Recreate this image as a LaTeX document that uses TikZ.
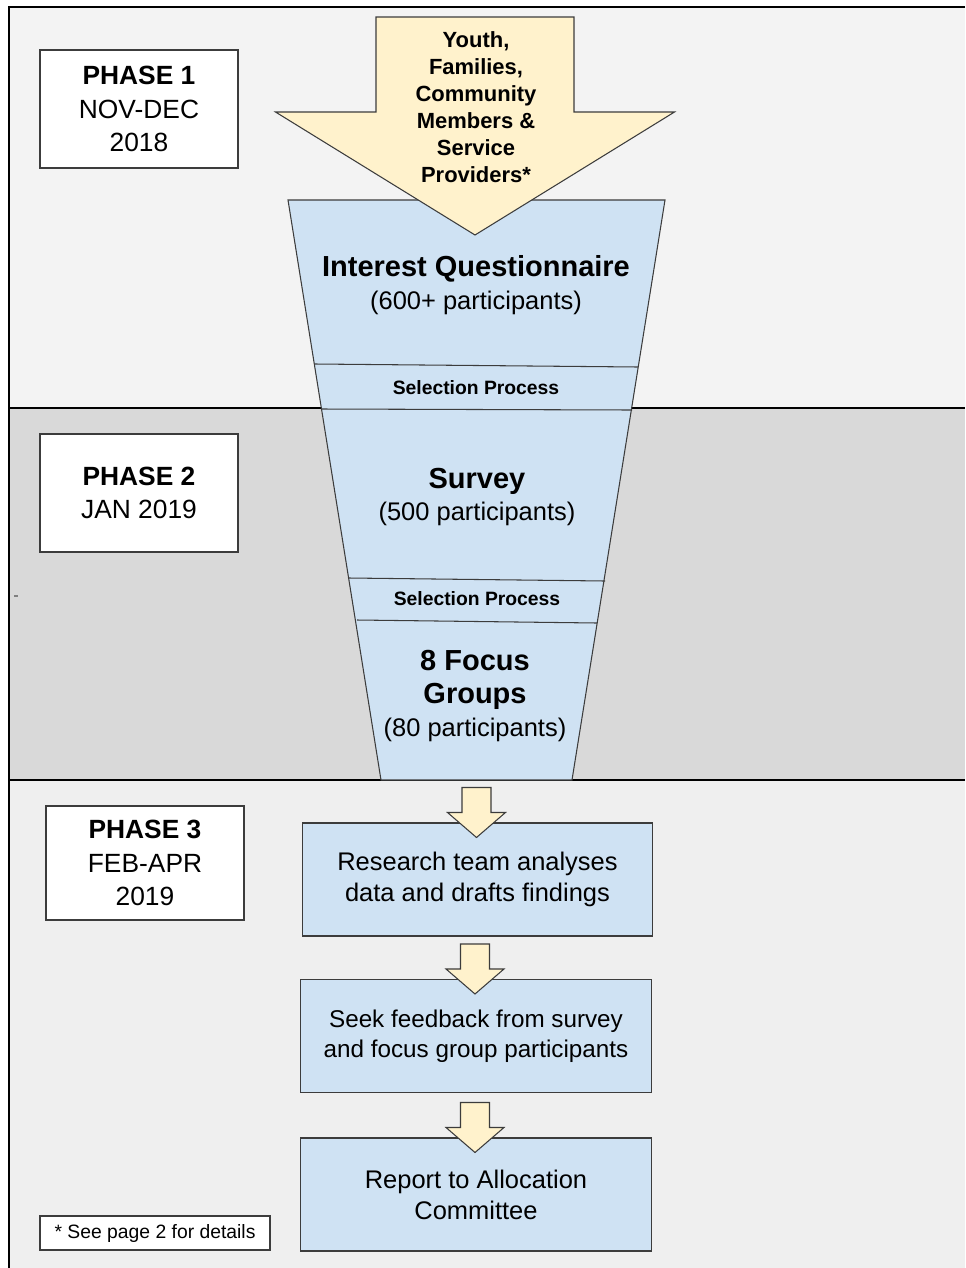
\documentclass[tikz,border=0pt]{standalone}
\usepackage{fontspec}
\setmainfont{Liberation Sans}
\usetikzlibrary{calc}

\definecolor{phaseone}{HTML}{F3F3F3}
\definecolor{phasetwo}{HTML}{D9D9D9}
\definecolor{phasethree}{HTML}{EFEFEF}
\definecolor{funnelblue}{HTML}{CFE2F3}
\definecolor{arrowyellow}{HTML}{FFF2CC}
\definecolor{edgegray}{HTML}{3C3C3C}

\begin{document}
\begin{tikzpicture}[x=0.02cm, y=-0.02cm,
    phasebox/.style={draw=edgegray, fill=white, line width=0.6pt, inner sep=0pt,
        minimum width=3.96cm, minimum height=2.36cm, align=center,
        font=\fontsize{15}{18.9}\selectfont},
    stagebox/.style={draw=edgegray, fill=funnelblue, line width=0.6pt, inner sep=0pt,
        minimum width=7.02cm, minimum height=2.26cm, align=center,
        font=\fontsize{14.5}{17.6}\selectfont},
    funneltext/.style={align=center, inner sep=0pt, font=\fontsize{14.5}{18.7}\selectfont},
    selecttext/.style={inner sep=0pt, font=\bfseries\fontsize{11}{13}\selectfont},
    yellowarrow/.style={draw=edgegray, fill=arrowyellow, line width=0.6pt, line join=miter}]

    \useasboundingbox (0,0) rectangle (965,1268);

    % Phase bands
    \fill[phaseone] (9,7) rectangle (965,408);
    \fill[phasetwo] (9,408) rectangle (965,780);
    \fill[phasethree] (9,780) rectangle (965,1268);
    \draw[black, line width=1.1pt] (965,7) -- (9,7) -- (9,1268);
    \draw[black, line width=0.6pt] (9,408) -- (965,408);
    \draw[black, line width=0.6pt] (9,780) -- (965,780);
    \draw[gray, line width=0.6pt] (14,596) -- (18,596);

    % Funnel
    \draw[draw=edgegray, fill=funnelblue, line width=0.6pt] (288,200) -- (665,200) -- (572,780) -- (381,780) -- cycle;
    \draw[edgegray, line width=0.6pt] (315,364) -- (638,367);
    \draw[edgegray, line width=0.6pt] (321,409) -- (632,410);
    \draw[edgegray, line width=0.6pt] (349,578) -- (605,581);
    \draw[edgegray, line width=0.6pt] (357,620) -- (597,623);

    % Incoming arrow
    \draw[yellowarrow] (475,235) -- (275.5,112) -- (376,112) -- (376,17) -- (574,17) -- (574,112) -- (674.5,112) -- cycle;
    \node[align=center, inner sep=0pt, font=\bfseries\fontsize{12.5}{15.4}\selectfont] (groups) at (476,107)
        {Youth,\\Families,\\Community\\Members \&\\Service\\Providers*};

    % Funnel stages
    \node[funneltext] (questionnaire) at (476,285)
        {{\bfseries\fontsize{16.5}{18.7}\selectfont Interest Questionnaire}\\(600+ participants)};
    \node[selecttext] (select1) at (476,388) {Selection Process};
    \node[funneltext] (survey) at (477,497)
        {{\bfseries\fontsize{16.5}{18.7}\selectfont Survey}\\(500 participants)};
    \node[selecttext] (select2) at (477,599) {Selection Process};
    \node[funneltext] (focus) at (475,696)
        {{\bfseries\fontsize{16.5}{19.8}\selectfont 8 Focus}\\{\bfseries\fontsize{16.5}{19.8}\selectfont Groups}\\(80 participants)};

    % Phase labels
    \node[phasebox] (phase1) at (139,109) {\textbf{PHASE 1}\\NOV-DEC\\2018};
    \node[phasebox] (phase2) at (139,493) {\textbf{PHASE 2}\\JAN 2019};
    \node[phasebox, minimum height=2.28cm] (phase3) at (145,863) {\textbf{PHASE 3}\\FEB-APR\\2019};
    \node[draw=edgegray, fill=white, line width=0.6pt, minimum width=4.6cm, minimum height=0.68cm,
        inner sep=0pt, font=\fontsize{11}{13}\selectfont] (note) at (155,1233) {* See page 2 for details};

    % Phase 3 steps
    \node[stagebox] (analysis) at (477.5,879.5) {Research team analyses\\data and drafts findings};
    \node[stagebox, font=\fontsize{13.8}{17}\selectfont] (feedback) at (476,1036) {Seek feedback from survey\\and focus group participants};
    \node[stagebox] (report) at (476,1194.5) {Report to Allocation\\Committee};

    % Arrows between steps
    \foreach \b in {analysis,feedback,report}
        \draw[yellowarrow] ($(\b.north)+(-1,15)$) -- ++(-29,-25) -- ++(14.5,0) -- ++(0,-25)
            -- ++(29,0) -- ++(0,25) -- ++(14.5,0) -- cycle;

\end{tikzpicture}
\end{document}
